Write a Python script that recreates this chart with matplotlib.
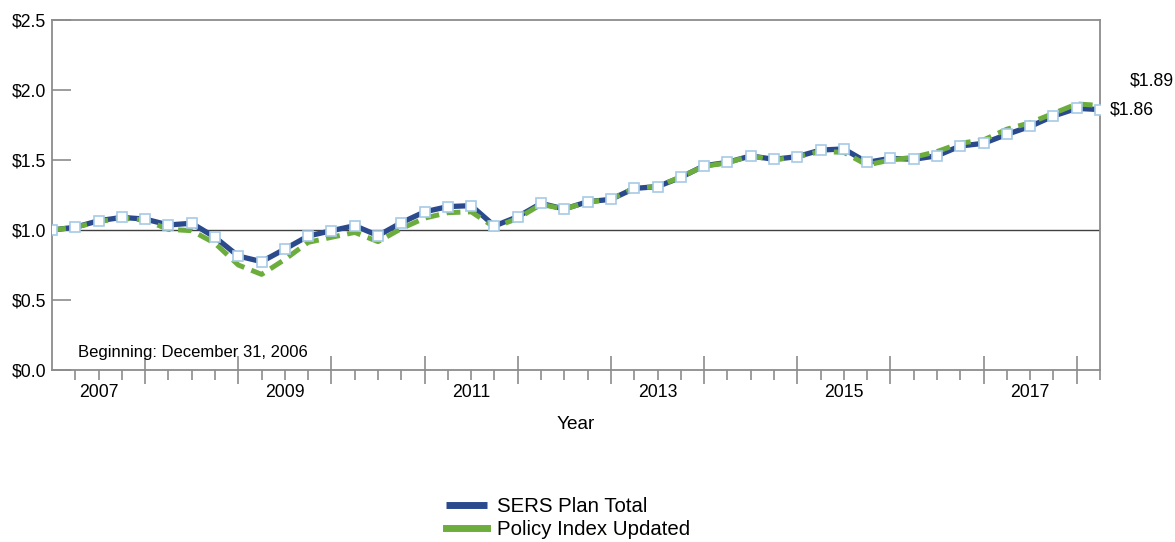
import matplotlib.pyplot as plt

plt.rcParams['font.family'] = ['Liberation Sans', 'DejaVu Sans']

# quarterly growth of $1, from Dec 31 2006 to Mar 2018
sers = [1.00, 1.02, 1.066, 1.09, 1.078, 1.036, 1.048, 0.948, 0.814, 0.774,
        0.864, 0.957, 0.995, 1.031, 0.96, 1.052, 1.13, 1.167, 1.174, 1.029,
        1.095, 1.19, 1.15, 1.202, 1.219, 1.297, 1.31, 1.376, 1.459, 1.483,
        1.529, 1.505, 1.524, 1.571, 1.579, 1.483, 1.512, 1.505, 1.53, 1.60,
        1.619, 1.683, 1.74, 1.814, 1.869, 1.86]
policy = [1.00, 1.02, 1.06, 1.085, 1.07, 1.005, 0.995, 0.905, 0.75, 0.683,
          0.79, 0.912, 0.948, 0.983, 0.917, 1.01, 1.085, 1.124, 1.13, 1.02,
          1.083, 1.183, 1.15, 1.20, 1.22, 1.30, 1.31, 1.38, 1.455, 1.48,
          1.53, 1.50, 1.525, 1.56, 1.555, 1.464, 1.50, 1.52, 1.56, 1.62,
          1.643, 1.72, 1.766, 1.833, 1.90, 1.89]
year_labels = ['2007', '2009', '2011', '2013', '2015', '2017']
year_label_pos = [2, 10, 18, 26, 34, 42]
yticks = [0, 0.5, 1.0, 1.5, 2.0, 2.5]

x = list(range(len(sers)))

fig = plt.figure(figsize=(11.75, 5.42), dpi=100)
ax = fig.add_axes([52 / 1175, 172 / 542, 1048 / 1175, 350 / 542])

blue = '#2b4a8e'
green = '#6dad3d'

ax.axhline(1.0, color='#404040', lw=1, zorder=1)
ax.plot(x, sers, color=blue, lw=3.8, solid_capstyle='butt', zorder=2,
        label='SERS Plan Total')
ax.plot(x, policy, color=green, lw=3.6, ls=(0, (2.8, 1.5)), zorder=3,
        label='Policy Index Updated')
ax.plot(x, sers, ls='none', marker='s', ms=7.8, mfc='white', mec='#a6cbe8',
        mew=1.2, zorder=4)

ax.set_xlim(0, len(sers) - 1)
ax.set_ylim(0, 2.5)

for sp in ax.spines.values():
    sp.set_color('#8c8c8c')
    sp.set_linewidth(1.3)

ax.set_yticks(yticks)
ax.set_yticklabels(['$%.1f' % v for v in yticks], fontsize=12.7)
ax.tick_params(axis='y', direction='in', length=14, width=1.2, color='#8c8c8c', pad=4)

majors = list(range(4, len(sers), 4))
minors = [i for i in range(1, len(sers)) if i not in majors]
ax.set_xticks(majors)
ax.set_xticklabels([''] * len(majors))
ax.set_xticks(minors, minor=True)
ax.tick_params(axis='x', which='major', direction='inout', length=20, width=1.2,
               color='#8c8c8c')
ax.tick_params(axis='x', which='minor', direction='out', length=7, width=1.2,
               color='#8c8c8c')
for pos, lab in zip(year_label_pos, year_labels):
    ax.text(pos, -0.04, lab, ha='center', va='top', fontsize=12.7,
            transform=ax.get_xaxis_transform())

ax.text(0.5, -0.157, 'Year', ha='center', va='center', fontsize=13.7,
        transform=ax.transAxes)

ax.text(0.025, 0.05, 'Beginning: December 31, 2006', fontsize=12,
        transform=ax.transAxes, va='center', ha='left')

ax.annotate('$1.86', (x[-1], sers[-1]), xytext=(10, 0), textcoords='offset pixels',
            va='center', ha='left', fontsize=12.7, annotation_clip=False)
ax.annotate('$1.89', (x[-1], policy[-1]), xytext=(30, 24), textcoords='offset pixels',
            va='center', ha='left', fontsize=12.7, annotation_clip=False)

leg = fig.legend(loc='center', bbox_to_anchor=(0.4834, 0.0443), frameon=False,
                 fontsize=14.7, handlelength=2.0, handletextpad=0.5,
                 labelspacing=0.18)
for h in leg.get_lines():
    h.set_linestyle('-')
    h.set_linewidth(5)

fig.savefig('out.png', dpi=100)
